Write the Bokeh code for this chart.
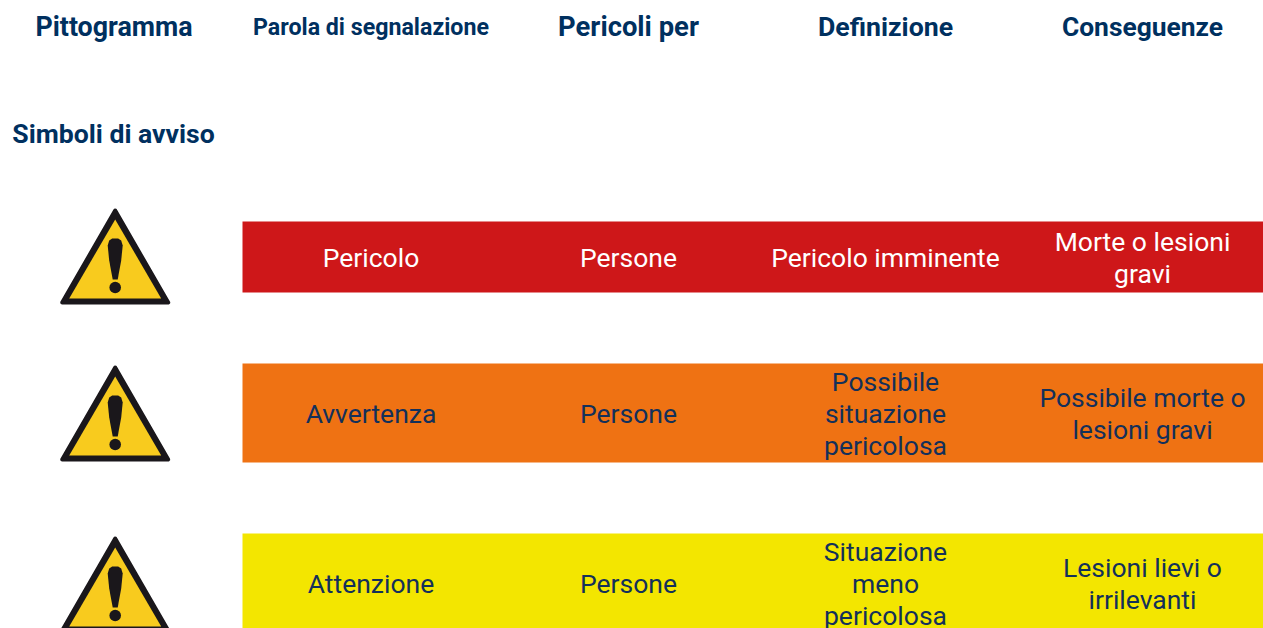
from bokeh.plotting import figure
from bokeh.models import Range1d
from bokeh.core.properties import value
from bokeh.embed import file_html
from bokeh.resources import INLINE

headers = ["Pittogramma", "Parola di segnalazione", "Pericoli per", "Definizione", "Conseguenze"]
section = "Simboli di avviso"
signal_words = ["Pericolo", "Avvertenza", "Attenzione"]
hazards_to = ["Persone", "Persone", "Persone"]
definitions = ["Pericolo imminente", "Possibile\nsituazione\npericolosa", "Situazione\nmeno\npericolosa"]
consequences = ["Morte o lesioni\ngravi", "Possibile morte o\nlesioni gravi", "Lesioni lievi o\nirrilevanti"]
row_colors = ["#CE1719", "#EF7213", "#F3E600"]
text_colors = ["#FFFFFF", "#13305A", "#13305A"]

NAVY = "#00305F"
FONT = "Roboto"
W, H = 1263, 628
p = figure(width=W, height=H, output_backend="svg", toolbar_location=None,
           x_range=Range1d(0, W), y_range=Range1d(H, 0),
           min_border=0, outline_line_color=None, background_fill_color="white",
           border_fill_color="white")
p.xaxis.visible = False
p.yaxis.visible = False
p.grid.visible = False

col_x = [113.5, 370.5, 628, 885, 1142]
tops = [221, 363, 533]
bottoms = [292, 462, 632]
text_y = [257, 413, 583]
tri_tops = [208, 365, 536]

p.quad(left=[242] * 3, right=[1264] * 3, top=tops, bottom=bottoms, fill_color=row_colors, line_color=None)

for top in tri_tops:
    cx = 114.7
    p.patch([cx, cx + 53, cx - 53], [top + 2, top + 94, top + 94], fill_color="#1A171B",
            line_color="#1A171B", line_width=4, line_join="round")
    p.patch([cx, cx + 46, cx - 46], [top + 11, top + 90, top + 90], fill_color="#F8CB1E", line_color=None)
    p.patch([cx - 7.5, cx - 6, cx - 3, cx + 3, cx + 6, cx + 7.5, cx + 6, cx + 2.5, cx - 2.5, cx - 6],
            [top + 37, top + 32, top + 30, top + 30, top + 32, top + 37, top + 52, top + 71, top + 71, top + 52],
            fill_color="#1A171B", line_color=None)
    p.circle([cx], [top + 79], radius=5.8, fill_color="#1A171B", line_color=None)

def label(x, y, t, size, color=NAVY, style="normal", lh=1.2):
    p.text([x], [y], text=[t], text_font=value(FONT), text_font_size=size, text_color=color,
           text_font_style=style, text_align="center", text_baseline="middle", text_line_height=lh)

sizes = ["26.8px", "23.2px", "27.4px", "26.7px", "26.4px"]
for x, h, s in zip(col_x, headers, sizes):
    label(x, 26.5, h, s, style="bold")
label(113, 132.5, section, "26.6px", style="bold")

for i in range(3):
    c = text_colors[i]
    label(col_x[1], text_y[i], signal_words[i], "26.5px", c)
    label(col_x[2], text_y[i], hazards_to[i], "26.5px", c)
    label(col_x[3], text_y[i], definitions[i], "26.5px", c, lh=1.03)
    label(col_x[4], text_y[i], consequences[i], "26.5px", c, lh=1.03)

open("out.html", "w").write(file_html(p, INLINE))
